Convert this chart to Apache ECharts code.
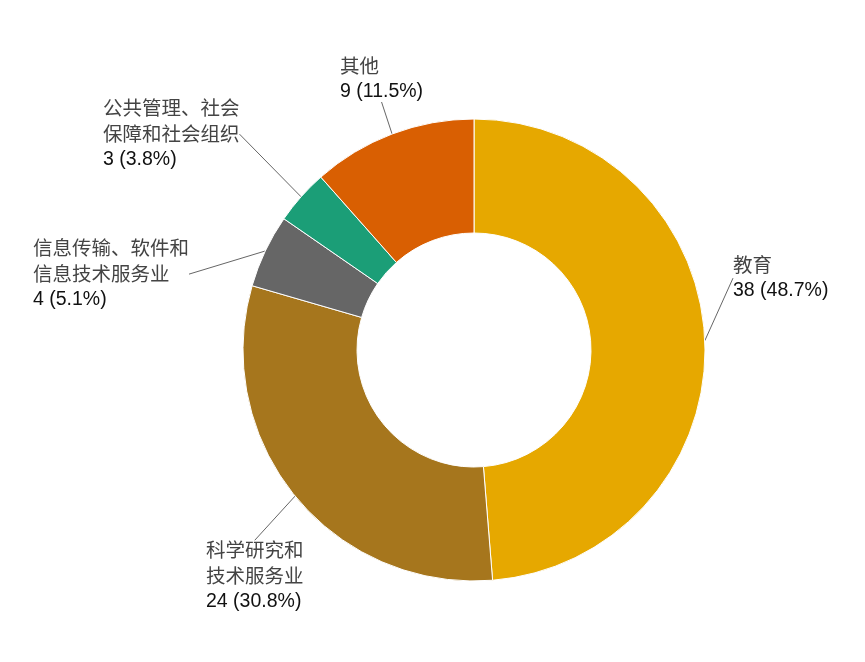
<!DOCTYPE html>
<html>
<head>
<meta charset="utf-8">
<script src="https://cdn.jsdelivr.net/npm/echarts@6/dist/echarts.min.js"></script>
<style>
  html, body { margin: 0; padding: 0; background: #fff; }
  #chart { width: 865px; height: 662px; }
</style>
</head>
<body>
<div id="chart"></div>
<script>
var categories = ['教育', '科学研究和技术服务业', '信息传输、软件和信息技术服务业', '公共管理、社会保障和社会组织', '其他'];
var nameLines = [['教育'], ['科学研究和', '技术服务业'], ['信息传输、软件和', '信息技术服务业'], ['公共管理、社会', '保障和社会组织'], ['其他']];
var values = [38, 24, 4, 3, 9];
var colors = ['#E6A800', '#A6761D', '#666666', '#1B9E77', '#D95F02'];

// where each label block sits (left, top)
var labelPos = [[733, 252], [206, 537], [33, 235], [103, 95], [340, 53]];

var byId = function(id) {
	return document.getElementById(id);
};

var total = values.reduce(function(a, b) { return a + b; }, 0);

var pieData = categories.map(function(c, i) {
	return {
		name: c,
		value: values[i],
		itemStyle: { color: colors[i] }
	};
});

var option = {
	animation: false,
	backgroundColor: '#fff',
	series: [{
		type: 'pie',
		center: [474, 350],
		radius: [117, 231],
		startAngle: 90,
		clockwise: true,
		avoidLabelOverlap: false,
		itemStyle: {
			borderColor: '#fff',
			borderWidth: 1
		},
		label: {
			show: true,
			position: 'outside',
			formatter: function(p) {
				var lines = nameLines[p.dataIndex].map(function(s) { return '{n|' + s + '}'; });
				var pct = (p.value / total * 100).toFixed(1);
				lines.push('{v|' + p.value + ' (' + pct + '%)}');
				return lines.join('\n');
			},
			rich: {
				n: {
					fontFamily: 'Noto Sans CJK SC',
					fontSize: 19.5,
					color: '#444',
					lineHeight: 26
				},
				v: {
					fontFamily: 'Liberation Sans',
					fontSize: 19.5,
					color: '#111',
					lineHeight: 26
				}
			}
		},
		labelLine: {
			show: true,
			length: 10,
			length2: 0,
			lineStyle: { color: '#666', width: 1 }
		},
		labelLayout: function(params) {
			var pos = labelPos[params.dataIndex];
			return {
				x: pos[0],
				y: pos[1],
				align: 'left',
				verticalAlign: 'top'
			};
		},
		data: pieData
	}]
};

var chart = echarts.init(byId('chart'));
chart.setOption(option);
</script>
</body>
</html>
